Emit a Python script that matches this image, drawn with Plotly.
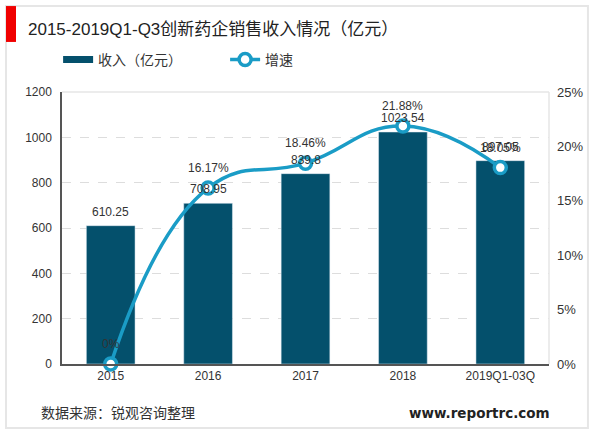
import plotly.express as px
import pandas as pd
# bars are the revenue per year, line is the growth rate on a second axis
years = ['2015', '2016', '2017', '2018', '2019Q1-03Q'] # x axis categories
revenue = [610.25, 708.95, 839.8, 1023.54, 897.05] # revenue in 100 million yuan
growth = [0, 16.17, 18.46, 21.88, 18.05] # growth rate in percent
revenue_labels = ['610.25', '708.95', '839.8', '1023.54', '897.05'] # text above the bars
growth_labels = ['0%', '16.17%', '18.46%', '21.88%', '18.05%'] # text above the line markers
left_ticks = [0, 200, 400, 600, 800, 1000, 1200] # left axis ticks
right_ticks = [0, 5, 10, 15, 20, 25] # right axis ticks
right_tick_labels = ['0%', '5%', '10%', '15%', '20%', '25%']

df = pd.DataFrame({'Year': years, 'Revenue': revenue}) # dataframe holding the chart data
font_name = 'Liberation Sans, Noto Sans CJK SC'
bar_color = '#04506C'
line_color = '#1A9CC6'

fig = px.bar(df, x='Year', y='Revenue', color_discrete_sequence=[bar_color]) # revenue bars
fig.add_scatter(x=[years[0]], y=[None], name='收入（亿元）', mode='lines', line=dict(color=bar_color, width=7)) # only there to get a wide legend swatch
fig.add_scatter(x=years, y=growth, name='增速', yaxis='y2', mode='lines+markers',
                line=dict(color=line_color, width=3.5, shape='spline', smoothing=1.3), cliponaxis=False,
                marker=dict(size=12, color='white', line=dict(color=line_color, width=3.5))) # growth line

fig.update_layout(width=600, height=433, autosize=False, margin=dict(l=62, r=51, t=92, b=69), bargap=0.5, plot_bgcolor='white', paper_bgcolor='white',
                  font=dict(family=font_name, size=12, color='#333333'),
                  legend=dict(orientation='h', x=-0.008, y=1.118, xanchor='left', yanchor='middle', font=dict(size=14), entrywidth=122, entrywidthmode='pixels', bgcolor='rgba(0,0,0,0)'),
                  yaxis2=dict(overlaying='y', side='right', range=[0, 25], tickvals=right_ticks, ticktext=right_tick_labels, showgrid=False, zeroline=False, ticks='', tickfont=dict(size=13), ticklabelstandoff=7))
fig.update_xaxes(title=None, type='category', categoryorder='array', categoryarray=years, showline=True, linecolor='#555555', linewidth=2, ticks='', tickfont=dict(size=12))
fig.update_layout(yaxis=dict(title=None, range=[0, 1200], tickvals=left_ticks, gridcolor='#DDDDDD', griddash='dash', gridwidth=1, zeroline=False, showline=True, linecolor='#555555', linewidth=1.5, ticks='', tickfont=dict(size=12), ticklabelstandoff=6))

for i in range(len(years)): # labels go in by hand because they sit higher than plotly puts them, x is the category position
    fig.add_annotation(x=i, y=revenue[i], text=revenue_labels[i], yshift=14, showarrow=False, font=dict(size=12, color='#333333'))
    fig.add_annotation(x=i, y=growth[i], yref='y2', text=growth_labels[i], yshift=20, showarrow=False, font=dict(size=12, color='#333333'))

fig.add_shape(type='rect', xref='paper', yref='paper', x0=-0.115, x1=1.08, y0=-0.235, y1=1.316, line=dict(color='#E6E6E6', width=2), layer='below') # outer panel
fig.add_shape(type='rect', xref='paper', yref='paper', x0=-0.115, x1=-0.0945, y0=1.184, y1=1.316, fillcolor='#F00000', line_width=0) # red block beside the title
fig.add_shape(type='line', xref='paper', yref='paper', x0=0, x1=1, y0=1, y1=1, line=dict(color='#E6E6E6', width=1.5)) # top edge of the plot
fig.add_shape(type='line', xref='paper', yref='paper', x0=1, x1=1, y0=0, y1=1, line=dict(color='#E6E6E6', width=1.5)) # right edge of the plot
fig.add_annotation(text='2015-2019Q1-Q3创新药企销售收入情况（亿元）', xref='paper', yref='paper', x=-0.0738, y=1.228, xanchor='left', yanchor='middle', showarrow=False, font=dict(size=17, color='#222222'))
fig.add_annotation(text='数据来源：锐观咨询整理', xref='paper', yref='paper', x=-0.047, y=-0.18, xanchor='left', yanchor='middle', showarrow=False, font=dict(size=14, color='#333333'))
fig.add_annotation(text='<b>www.reportrc.com</b>', xref='paper', yref='paper', x=1.006, y=-0.18, xanchor='right', yanchor='middle', showarrow=False, font=dict(size=13.5, color='#222222', family='DejaVu Sans'))

fig.write_html("out.html", post_script="document.body.style.margin='0'", config={'displayModeBar': False}) # page margin would push the figure 8px off
